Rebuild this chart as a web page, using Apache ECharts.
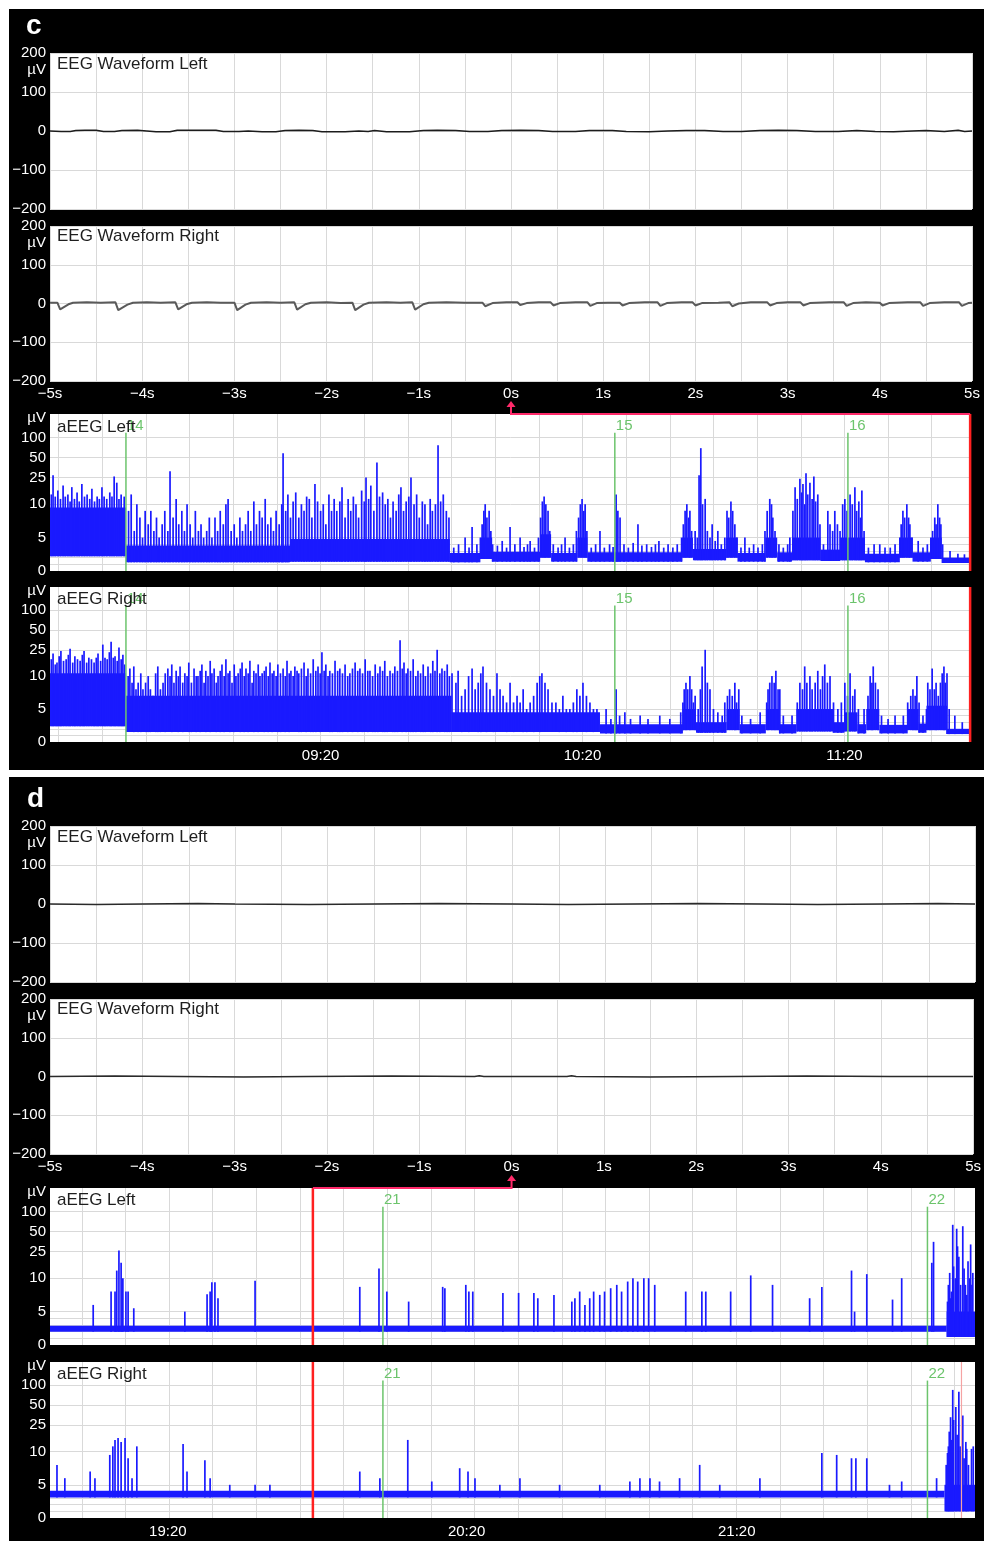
<!DOCTYPE html>
<html>
<head>
<meta charset="utf-8">
<script src="https://cdn.jsdelivr.net/npm/echarts@6/dist/echarts.min.js"></script>
<style>
  html, body { margin: 0; padding: 0; background: #fff; }
  #chart { width: 984px; height: 1541px; }
</style>
</head>
<body>
<div id="chart"></div>
<script>
// ---------- axis ticks / labels ----------
const eegTicks = [-5, -4, -3, -2, -1, 0, 1, 2, 3, 4, 5];
const eegLevels = [-200, -100, 0, 100, 200];
const aeegLevels = [0, 5, 10, 25, 50, 100];
const aeegGridLevels = [1, 2, 3, 4, 5, 10, 25, 50, 100];

// panel c time axis (minutes from left edge of the aEEG strip)
const cSpan = 211;
const cTimeTicks = [62, 122, 182];
const cTimeLabels = ['09:20', '10:20', '11:20'];
const cMarkers = [[17.4, '14'], [129.4, '15'], [182.8, '16']];
const cWindow = 210.8;

// panel d time axis
const dSpan = 212;
const dTimeTicks = [27.0, 95.5, 157.4];
const dTimeLabels = ['19:20', '20:20', '21:20'];
const dMarkers = [[76.3, '21'], [201.1, '22']];
const dWindow = 60.25;
const dFaint = 208.9;

// ---------- EEG waveforms [s, µV] ----------
const cEegLeft = [[-5,0],[-4.88,-1],[-4.78,-1],[-4.72,1],[-4.62,2],[-4.5,2],[-4.42,-1],[-4.3,-1],[-4.22,1],[-4.05,2],
  [-3.95,0],[-3.85,-2],[-3.7,-2],[-3.62,2],[-3.4,2],[-3.2,2],[-3.12,-1],[-2.95,-1],[-2.85,0],[-2.7,-2],[-2.55,-2],
  [-2.45,1],[-2.3,2],[-2.15,1],[-2.05,-2],[-1.8,-2],[-1.65,0],[-1.55,-1],[-1.48,1],[-1.35,-2],[-1.1,-2],[-0.95,1],
  [-0.8,2],[-0.6,1],[-0.45,-1],[-0.25,-1],[-0.1,1],[0.1,2],[0.3,1],[0.45,-1],[0.7,-1],[0.85,1],[1.1,1],[1.25,-1],
  [1.5,-2],[1.7,0],[1.9,1],[2.1,1],[2.3,-1],[2.5,-1],[2.7,1],[2.9,2],[3.1,1],[3.3,-1],[3.55,-1],[3.75,1],[3.95,-1],
  [4.15,-2],[4.35,0],[4.5,1],[4.7,-1],[4.85,2],[4.92,-1],[5,0]];
const cEegRight = [[-5,2],[-4.92,2],[-4.89,-15],[-4.8,-2],[-4.75,2],[-4.6,3],[-4.45,2],[-4.29,3],[-4.26,-17],[-4.16,-3],
  [-4.1,2],[-3.95,3],[-3.8,2],[-3.64,3],[-3.61,-15],[-3.52,-2],[-3.46,2],[-3.3,3],[-3.15,2],[-3.0,2],[-2.97,-17],
  [-2.88,-3],[-2.82,2],[-2.65,3],[-2.5,2],[-2.35,3],[-2.32,-16],[-2.23,-2],[-2.17,2],[-2.0,3],[-1.85,1],[-1.72,2],
  [-1.69,-17],[-1.6,-3],[-1.54,2],[-1.35,3],[-1.2,2],[-1.07,3],[-1.04,-16],[-0.95,-2],[-0.89,2],[-0.7,3],[-0.5,2],
  [-0.31,2],[-0.28,-7],[-0.2,1],[-0.05,3],[0.07,3],[0.10,-4],[0.17,1],[0.3,3],[0.43,3],[0.46,-5],[0.53,1],[0.7,3],
  [0.83,3],[0.86,-6],[0.93,1],[1.05,2],[1.18,2],[1.21,-5],[1.28,1],[1.45,3],[1.59,3],[1.62,-6],[1.69,1],[1.85,3],
  [1.97,3],[2.0,-5],[2.07,1],[2.25,2],[2.37,3],[2.40,-7],[2.47,0],[2.6,3],[2.78,3],[2.81,-5],[2.88,1],[3.0,3],
  [3.14,3],[3.17,-5],[3.24,1],[3.45,3],[3.61,3],[3.64,-6],[3.71,1],[3.85,3],[4.0,2],[4.03,-5],[4.1,1],[4.3,3],
  [4.44,3],[4.47,-6],[4.54,1],[4.7,3],[4.86,3],[4.89,-6],[4.96,1],[5,2]];
const dEegLeft = [[-5,0],[-4.5,-1],[-4,0],[-3.4,1],[-3,0],[-2.2,-1],[-1.5,0],[-0.8,1],[0,0],[0.6,-1],[1.3,0],
  [2,1],[2.7,0],[3.3,-1],[4,0],[4.6,1],[5,0]];
const dEegRight = [[-5,0],[-4.3,1],[-3.6,0],[-2.9,-1],[-2.2,0],[-1.3,1],[-0.4,0],[-0.35,2],[-0.3,0],[0.6,0],
  [0.65,2],[0.7,0],[1.5,-1],[2.4,0],[3.2,1],[4.1,0],[5,0]];

// ---------- aEEG bands [t0, t1, low µV, high µV] ----------
const cLeftBand = [[0,17.4,2.2,9.5],[17.4,55,1.3,3.8],[55,91.6,1.4,4.8],[91.6,98.6,1.3,2.7],[98.6,101.3,1.8,5],
  [101.3,112.3,1.4,2.9],[112.3,114.8,2,5.5],[114.8,120.8,1.4,2.7],[120.8,123.1,2,5],[123.1,144.8,1.4,2.8],
  [144.8,147.3,2,5],[147.3,154.9,1.6,3.3],[154.9,157.5,2,5],[157.5,163.9,1.4,2.7],[163.9,166.6,2,5],
  [166.6,170,1.4,2.8],[170,176.5,1.6,5],[176.5,181,1.5,3.2],[181,186.7,1.6,5],[186.7,194.7,1.3,2.6],
  [194.7,197.6,2,5],[197.6,201.8,1.4,2.8],[201.8,204.3,1.8,5],[204.3,211,1.2,2]];
const cRightBand = [[0,17.4,2.4,11],[17.4,92,1.5,7],[92,126,1.5,4.5],[126,145,1.3,2.7],[145,148,1.8,5],
  [148,155,1.4,3],[155,158,1.8,5],[158,164,1.3,2.7],[164,167,1.8,5],[167,171,1.3,2.7],[171,179.5,1.6,5],
  [179.5,182,1.4,3],[182,185,1.6,4.5],[185,187,1.3,2.7],[187,190,1.8,5],[190,196.5,1.3,2.6],[196.5,199,1.8,5],
  [199,200.8,1.4,2.8],[200.8,205.5,1.8,5.5],[205.5,211,1.2,2]];
const dLeftBand = [[0,205.5,2.0,2.9],[205.5,212,1.2,5]];
const dRightBand = [[0,205,3.1,4.1],[205,212,1.0,5]];

// ---------- aEEG spikes [t, peak µV] ----------
const cLeftSpikes = [
  [0.3,14],[0.7,27],[1.2,13],[1.8,16],[2.4,12],[3.0,19],[3.5,13],[4.1,14],[4.6,11],[5.0,18],[5.6,12],[6.2,15],
  [6.7,11],[7.3,20],[7.9,13],[8.5,14],[9.1,12],[9.6,17],[10.2,11],[10.8,13],[11.3,12],[11.9,18],[12.4,13],[13.0,12],
  [13.7,15],[14.2,13],[14.7,26],[15.3,21],[15.8,12],[16.3,14],[17.0,13],
  [18.0,9],[18.6,14],[19.3,6],[19.9,10],[20.6,8],[21.2,5],[21.8,9],[22.5,7],[23.1,9],[23.8,6],[24.4,8],[25.0,5],
  [25.7,7],[26.3,9],[27.0,6],[27.5,31],[28.2,8],[28.9,12],[29.5,7],[30.2,9],[30.8,6],[31.4,10],[32.1,7],[32.7,5],
  [33.3,9],[34.0,6],[34.6,7],[35.2,5],[35.9,6],[36.5,8],[37.1,5],[37.8,8],[38.4,6],[39.0,9],[39.7,7],[40.3,10],
  [40.8,12],[41.5,6],[42.2,7],[42.8,5],[43.5,8],[44.1,6],[44.8,7],[45.4,9],[46.0,6],[46.7,11],[47.3,7],[48.0,9],
  [48.6,8],[49.3,12],[49.9,7],[50.6,8],[51.2,6],[51.8,9],[52.5,7],[53.1,10],[53.4,58],[54.0,9],[54.5,14],[55.1,8],
  [55.7,11],[56.3,15],[57.0,8],[57.6,10],[58.2,9],[58.8,13],[59.4,12],[60.0,8],[60.7,20],[61.3,11],[62.0,9],
  [62.6,10],[63.2,7],[63.9,14],[64.5,9],[65.1,12],[65.7,9],[66.4,11],[66.9,18],[67.6,8],[68.3,12],[68.9,9],
  [69.5,13],[70.1,10],[70.7,8],[71.4,16],[72.0,11],[72.4,25],[73.0,12],[73.5,19],[74.2,9],[74.9,42],[75.5,13],
  [76.2,15],[76.8,10],[77.4,12],[78.0,8],[78.6,11],[79.3,9],[79.9,14],[80.4,18],[81.0,9],[81.6,11],[82.2,13],
  [82.7,25],[83.4,10],[84.0,14],[84.6,8],[85.3,11],[85.9,10],[86.5,7],[87.1,12],[87.6,9],[88.3,10],[88.9,76],
  [89.5,11],[90.1,14],[90.8,9],[91.4,8],
  [92.5,3.5],[93.6,4],[95.1,5],[96.0,3.5],[96.7,6.6],[97.8,4],[98.6,5],[99.0,7],[99.4,9],[99.7,10],[100.1,8],
  [100.6,9],[101.0,6],[101.4,4],[102.5,3.8],[103.6,4.5],[104.6,3.5],[105.4,6.6],[106.5,4],[107.7,5],[108.6,3.6],
  [109.4,4],[110.0,4.5],[111.0,3.5],[111.9,5],[112.4,8],[112.8,11],[113.2,13],[113.6,10],[114.1,9],[114.5,6],
  [115.3,4],[116.4,3.5],[117.2,4],[118.0,5],[119.0,3.5],[119.9,4],[120.6,6],[121.1,8],[121.5,10],[121.9,12],
  [122.3,9],[122.6,10],[123.0,6],[124.0,3.5],[125.0,4],[126.0,6],[127.0,3.5],[128.2,4],[129.0,3.6],[129.7,14],
  [130.1,9],[130.6,8],
  [131.5,4],[132.5,3.5],[133.6,4.2],[134.7,7],[135.6,3.8],[136.7,4],[137.8,3.6],[138.7,4],[139.5,4.5],[140.6,3.5],
  [141.6,4],[142.7,3.5],[143.7,4],[144.7,5],[145.1,7],[145.5,9],[145.9,10],[146.3,8],[146.6,9],[147.0,6],[147.8,6],
  [148.3,5],[148.7,27],[149.1,69],[149.5,10],[150.1,12],[150.6,6],[151.2,5],[151.7,7],[152.4,4.5],[153.0,6],
  [153.8,4],[154.6,5],[155.1,9],[155.5,8],[156.0,11],[156.4,9],[156.9,7],[157.4,5],[158.3,3.5],[159.2,5],
  [160.2,3.5],[161.2,4],[162.2,3.5],[163.2,4],[163.8,6],[164.3,9],[164.9,12],[165.3,10],[165.6,8],[166.1,6],
  [167.0,4],[168.0,3.5],[169.0,4],[169.5,5],[170.2,9],[170.7,18],[171.2,12],[171.8,24],[172.2,15],[172.5,20],
  [172.9,10],[173.2,29],[173.6,14],[174.1,21],[174.6,12],[175.0,26],[175.4,11],[175.9,14],[176.4,7],[177.2,4],
  [178.2,9],[178.7,7],[179.3,6],[179.8,9],[180.4,7],[181.0,6],[181.6,10],[182.1,12],[182.6,9],[183.3,14],
  [183.8,10],[184.4,18],[184.8,9],[185.3,11],[185.7,8],[186.0,16],[186.5,6],[187.5,3.5],[188.8,4],[190.1,4],
  [191.3,3.5],[192.5,3.5],[193.6,4],[194.7,5],[195.0,7],[195.4,9],[195.8,8],[196.3,10],[196.7,8],[197.0,7],
  [197.5,5],[198.9,4.5],[200.0,3.5],[201.0,4],[201.8,5],[202.2,6],[202.7,8],[203.0,7],[203.4,10],[203.8,8],
  [204.1,7],[204.5,4],[206.2,3],[208.0,2.6],[209.5,2.5]];
const cRightSpikes = [
  [0.3,18],[0.7,22],[1.2,15],[1.6,16],[2.1,20],[2.5,24],[3.1,17],[3.7,18],[4.2,21],[4.6,26],[5.2,16],[5.7,20],
  [6.3,18],[6.9,17],[7.4,21],[7.8,24],[8.4,16],[8.9,19],[9.5,18],[10.1,16],[10.6,19],[11.0,22],[11.6,17],[12.1,30],
  [12.6,19],[13.1,18],[13.6,23],[14.0,33],[14.5,19],[14.9,20],[15.4,17],[15.8,27],[16.3,18],[16.7,21],[17.1,15],
  [17.9,10],[18.3,13],[18.8,9],[19.2,14],[19.7,8],[20.2,9],[20.8,11],[21.3,8],[21.9,9],[22.5,10],[23.0,8],[23.6,7],
  [24.2,11],[24.7,14],[25.3,8],[25.9,9],[26.4,11],[27.0,13],[27.5,10],[27.9,15],[28.4,9],[28.9,12],[29.4,10],
  [29.8,14],[30.4,9],[30.9,11],[31.4,10],[31.8,16],[32.4,9],[33.0,13],[33.5,10],[33.9,10],[34.4,12],[34.8,15],
  [35.3,9],[35.7,12],[36.2,10],[36.7,17],[37.1,11],[37.6,13],[38.1,9],[38.5,10],[39.0,12],[39.4,15],[39.9,10],
  [40.3,18],[40.8,11],[41.2,12],[41.7,9],[42.2,15],[42.6,10],[43.1,11],[43.6,13],[44.0,16],[44.5,10],[44.9,13],
  [45.4,11],[45.8,17],[46.3,9],[46.7,12],[47.2,11],[47.7,15],[48.1,10],[48.6,11],[49.1,12],[49.5,14],[50.0,10],
  [50.4,16],[50.9,11],[51.3,12],[51.8,10],[52.2,15],[52.8,11],[53.4,13],[53.9,10],[54.3,17],[54.8,11],[55.2,12],
  [55.7,10],[56.1,14],[56.6,12],[57.0,11],[57.6,13],[58.2,16],[58.7,10],[59.1,13],[59.7,11],[60.3,18],[60.9,12],
  [61.4,14],[61.9,11],[62.3,23],[62.8,12],[63.2,15],[63.7,10],[64.1,12],[64.7,11],[65.3,17],[65.9,12],[66.4,13],
  [67.0,11],[67.6,15],[68.2,10],[68.7,11],[69.3,13],[69.9,16],[70.5,12],[71.0,13],[71.6,11],[72.2,18],[72.8,12],
  [73.3,12],[73.9,10],[74.5,15],[75.1,11],[75.6,14],[76.2,12],[76.7,17],[77.3,10],[77.9,12],[78.5,11],[79.0,14],
  [79.6,12],[80.2,35],[80.7,13],[81.1,16],[81.6,11],[82.0,13],[82.6,12],[83.2,18],[83.8,10],[84.3,12],[84.9,11],
  [85.5,15],[86.0,10],[86.6,14],[87.2,11],[87.7,17],[88.2,12],[88.7,25],[89.3,11],[89.8,13],[90.4,12],[91.0,15],
  [91.5,10],[92.1,11],
  [93.0,9],[93.5,12],[94.3,7],[95.1,8],[95.9,10],[96.7,13],[97.4,8],[98.1,9],[98.7,11],[99.2,14],[100.0,9],
  [100.8,8],[101.6,7],[102.4,11],[103.1,8],[103.8,7],[104.6,6],[105.4,9],[106.2,6],[107.0,7],[107.7,6],[108.4,8],
  [109.2,5],[110.0,6],[110.8,7],[111.6,9],[112.2,10],[112.7,11],[113.4,9],[114.1,8],[115.0,6],[115.9,6],[116.7,5],
  [117.5,7],[118.3,5],[119.1,5],[119.9,6],[120.7,8],[121.4,7],[122.1,9],[122.9,7],[123.7,6],[124.5,5],[125.3,5],
  [127.4,5],[128.5,3.5],[129.7,8],[130.5,4],[131.7,4.5],[133.0,3.5],[135.2,4],[137.0,3.5],[139.7,4],[142.0,3.5],
  [144.5,4.5],[145.0,6],[145.3,8],[145.7,9],[146.1,8],[146.6,10],[147.0,8],[147.4,6],[147.8,7],[148.5,5],[149.0,8],
  [149.4,14],[150.1,25],[150.6,9],[151.2,8],[152.0,5],[153.0,4.5],[154.0,4],[154.6,6],[155.2,7],[155.7,8],
  [156.3,7],[156.9,9],[157.3,6],[157.8,8],[158.5,4],[160.5,3.5],[162.7,4.5],[164.2,6],[164.5,8],[164.9,9],
  [165.4,10],[165.9,9],[166.3,12],[166.8,8],[167.2,8],[168.0,4],[170.0,4],[171.2,6],[171.8,9],[172.4,8],[172.9,14],
  [173.4,9],[174.1,10],[174.6,8],[175.3,9],[175.9,12],[176.5,8],[177.0,10],[177.5,15],[178.1,9],[178.7,10],
  [179.5,6],[180.5,5],[181.3,6],[182.1,9],[182.7,7],[183.3,11],[183.9,7],[184.4,8],[185.2,5],[186.5,5],[187.4,7],
  [187.9,10],[188.3,9],[188.6,14],[189.1,9],[189.7,8],[190.5,4],[192.0,3.5],[193.6,4],[195.5,4],[196.5,6],
  [197.2,7],[197.7,8],[198.2,7],[198.6,10],[199.1,6],[200.0,4],[200.8,5],[201.1,9],[201.6,8],[202.1,13],[202.6,8],
  [203.0,9],[203.5,7],[204.0,9],[204.4,11],[204.8,14],[205.1,9],[205.5,11],[206.0,5],[207.3,4],[209.0,3]];
const dLeftSpikes = [[9.9,6],[14.0,8],[14.9,8],[15.3,13],[15.8,26],[16.3,17],[16.7,10],[17.4,8],[17.9,8],[19.2,5.5],
  [30.9,5],[36.0,7.6],[36.7,8],[37.1,9.4],[37.8,9.4],[38.5,7],[47.0,9.6],[71.0,8.7],[75.4,14],[77.2,8],[82.2,6.5],
  [90.0,8.7],[90.5,8.5],[95.3,9],[96.0,8],[96.9,8],[103.8,7.8],[107.4,7.8],[110.9,7.8],[111.8,7],[115.5,7.5],
  [119.6,6.5],[120.3,7],[121.4,8],[122.6,6],[123.7,7],[124.6,8],[126.0,7.5],[127.1,8],[128.5,8.5],[129.9,9],
  [131.0,8],[132.4,9.5],[133.6,10],[134.7,9.5],[136.1,10],[137.2,10],[138.6,9],[145.7,8],[149.4,8],[150.3,8],
  [156.0,8],[160.6,11],[165.6,9],[174.1,7],[176.9,8.7],[183.7,13],[184.4,5],[187.2,11.5],[193.1,6.8],[195.2,10],
  [202.1,17],[202.5,35],[205.7,6.5],[205.9,9],[206.2,12],[206.4,7],[206.6,8],[206.9,63],[207.1,15],[207.5,10],
  [207.8,55],[208.0,30],[208.3,21],[208.7,9],[209.2,60],[209.5,14],[209.8,9],[210.1,7.5],[210.4,18],[210.8,10],
  [211.0,32],[211.3,9],[211.5,12]];
const dRightSpikes = [[1.6,8],[3.4,6],[9.2,7],[10.3,6],[13.7,9.5],[14.4,12],[14.9,15],[15.6,16],[16.3,14],[17.2,16],
  [17.9,9],[18.8,6],[19.9,12],[30.5,13],[31.4,7],[35.5,8.7],[36.7,6],[41.2,5],[47.0,5],[50.4,5],[71.0,7],[75.6,6],
  [82.0,15],[87.5,5.5],[93.9,7.5],[95.8,7],[97.4,6],[103.1,5],[107.7,6],[116.8,5],[126.0,5],[132.9,5.5],[135.2,6],
  [137.5,6],[139.7,5.5],[144.3,6],[148.9,8],[153.5,5],[162.7,6],[176.9,9.8],[180.3,9.5],[183.7,9],[184.7,9],
  [187.2,9],[192.4,5],[195.2,5.5],[203.2,6],[205.4,8],[205.7,9.8],[205.9,12],[206.1,20],[206.4,33],[206.6,15],
  [206.9,85],[207.1,30],[207.6,47],[207.9,18],[208.3,80],[208.6,12],[209.2,35],[209.5,9],[209.9,14],[210.1,11],
  [210.5,8],[211.2,11],[211.6,12]];

// ---------- look ----------
const FONT = "'Liberation Sans', Arial, sans-serif";
const BLUE = '#1a1aff';
const GREEN = '#6cc46c';
const RED = '#ff2020';
const PINK = '#ff2a6a';
const GRIDC = '#d9d9d9';
const EEG_UNIT_AT = 156;
const AEEG_MAX = 2.35;
const AEEG_UNIT_AT = 2.29;

// semi-log aEEG scale: linear 0-10 µV, log 10-100 µV
function f(v) { return v <= 10 ? v / 10 : 1 + Math.log10(v / 10); }
function neg(v) { return v < 0 ? '\u2212' + (-v) : String(v); }
function near(list, v) {
  for (let i = 0; i < list.length; i++) if (Math.abs(list[i] - v) < 1e-6) return i;
  return -1;
}

// [left, top, width, height]
const layout = [
  [50, 53, 922, 156], [50, 226, 922, 155], [50, 414, 921, 157], [50, 587, 921, 155],
  [50, 826, 925, 156], [50, 999, 925, 155], [50, 1188, 925, 157], [50, 1362, 925, 156]
];

const grid = layout.map(g => ({
  left: g[0], top: g[1], width: g[2], height: g[3],
  show: true, backgroundColor: '#fff', borderWidth: 0
}));

const labelBase = { color: '#fff', fontSize: 15, fontFamily: FONT };

function eegX(i, show) {
  return {
    type: 'value', gridIndex: i, min: -5, max: 5, interval: 0.5,
    axisLine: { show: false }, axisTick: { show: false },
    splitLine: { show: true, lineStyle: { color: GRIDC, width: 1 } },
    axisLabel: Object.assign({ show: show, customValues: eegTicks, margin: 5,
      formatter: v => neg(v) + 's' }, labelBase)
  };
}
function eegY(i) {
  return {
    type: 'value', gridIndex: i, min: -200, max: 200, interval: 100,
    axisLine: { show: false }, axisTick: { show: false },
    splitLine: { show: true, lineStyle: { color: GRIDC, width: 1 } },
    axisLabel: Object.assign({ customValues: eegLevels.concat([EEG_UNIT_AT]), margin: 4,
      formatter: v => Math.abs(v - EEG_UNIT_AT) < 1e-6 ? 'µV' : neg(v) }, labelBase)
  };
}
function aeegX(i, span, firstLine, ticks, labels, show) {
  const lines = [];
  for (let v = firstLine; v < span; v += 10) lines.push(v);
  return {
    type: 'value', gridIndex: i, min: 0, max: span,
    axisLine: { show: false }, axisTick: { show: false, customValues: lines },
    splitLine: { show: true, lineStyle: { color: GRIDC, width: 1 } },
    axisLabel: Object.assign({ show: show, customValues: ticks, margin: 6,
      formatter: v => { const k = near(ticks, v); return k < 0 ? '' : labels[k]; } }, labelBase)
  };
}
function aeegY(i) {
  const tv = aeegLevels.map(f);
  return {
    type: 'value', gridIndex: i, min: 0, max: AEEG_MAX,
    axisLine: { show: false },
    axisTick: { show: false, customValues: aeegGridLevels.map(f) },
    splitLine: { show: true, lineStyle: { color: GRIDC, width: 1 } },
    axisLabel: Object.assign({ customValues: tv.concat([AEEG_UNIT_AT]), margin: 4,
      formatter: v => {
        if (Math.abs(v - AEEG_UNIT_AT) < 1e-6) return 'µV';
        const k = near(tv, v); return k < 0 ? '' : String(aeegLevels[k]);
      } }, labelBase)
  };
}

const xAxis = [
  eegX(0, false), eegX(1, true),
  aeegX(2, cSpan, 2, cTimeTicks, cTimeLabels, false), aeegX(3, cSpan, 2, cTimeTicks, cTimeLabels, true),
  eegX(4, false), eegX(5, true),
  aeegX(6, dSpan, 7.3, dTimeTicks, dTimeLabels, false), aeegX(7, dSpan, 7.3, dTimeTicks, dTimeLabels, true)
];
const yAxis = [eegY(0), eegY(1), aeegY(2), aeegY(3), eegY(4), eegY(5), aeegY(6), aeegY(7)];

function eegLine(gi, data, color, width) {
  return { type: 'line', xAxisIndex: gi, yAxisIndex: gi, data: data, symbol: 'none',
    lineStyle: { color: color, width: width }, silent: true };
}
function lowAt(band, t) {
  for (const s of band) if (t >= s[0] && t < s[1]) return s[2];
  return band[band.length - 1][2];
}
function bandSeries(gi, band) {
  return {
    type: 'custom', xAxisIndex: gi, yAxisIndex: gi, silent: true, z: 2,
    data: band.map(s => [s[0], s[1], f(s[2]), f(s[3])]),
    encode: { x: [0, 1], y: [2, 3] },
    renderItem: (params, api) => {
      const a = api.coord([api.value(0), api.value(3)]);
      const b = api.coord([api.value(1), api.value(2)]);
      return { type: 'rect', shape: { x: a[0], y: a[1], width: b[0] - a[0], height: b[1] - a[1] },
        style: { fill: BLUE } };
    }
  };
}
function spikeSeries(gi, spikes, band) {
  return {
    type: 'custom', xAxisIndex: gi, yAxisIndex: gi, silent: true, z: 3,
    data: spikes.map(s => [s[0], f(lowAt(band, s[0])), f(s[1])]),
    encode: { x: 0, y: [1, 2] },
    renderItem: (params, api) => {
      const a = api.coord([api.value(0), api.value(1)]);
      const b = api.coord([api.value(0), api.value(2)]);
      return { type: 'line', shape: { x1: a[0], y1: a[1], x2: b[0], y2: b[1] },
        style: { stroke: BLUE, lineWidth: 1.7 } };
    }
  };
}
function markerSeries(gi, marks, color, topV, lw, withText) {
  return {
    type: 'custom', xAxisIndex: gi, yAxisIndex: gi, silent: true, z: 4,
    data: marks.map(m => [m[0], topV]),
    encode: { x: 0, y: 1 },
    renderItem: (params, api) => {
      const t = api.value(0);
      const top = api.coord([t, api.value(1)]);
      const bot = api.coord([t, 0]);
      const kids = [{ type: 'line', shape: { x1: top[0], y1: top[1], x2: bot[0], y2: bot[1] },
        style: { stroke: color, lineWidth: lw } }];
      if (withText) kids.push({ type: 'text', style: { text: marks[params.dataIndex][1],
        x: top[0] + 1, y: top[1] + 1, align: 'left', verticalAlign: 'bottom',
        fill: color, font: '15px ' + FONT } });
      return { type: 'group', children: kids };
    }
  };
}

const series = [
  eegLine(0, cEegLeft, '#1c1c1c', 1.5), eegLine(1, cEegRight, '#5a5a5a', 2),
  eegLine(4, dEegLeft, '#2a2a2a', 1.5), eegLine(5, dEegRight, '#2a2a2a', 1.5),
  bandSeries(2, cLeftBand), spikeSeries(2, cLeftSpikes, cLeftBand),
  bandSeries(3, cRightBand), spikeSeries(3, cRightSpikes, cRightBand),
  bandSeries(6, dLeftBand), spikeSeries(6, dLeftSpikes, dLeftBand),
  bandSeries(7, dRightBand), spikeSeries(7, dRightSpikes, dRightBand),
  markerSeries(2, cMarkers, GREEN, 2.07, 1.5, true), markerSeries(3, cMarkers, GREEN, 2.07, 1.5, true),
  markerSeries(6, dMarkers, GREEN, 2.07, 1.5, true), markerSeries(7, dMarkers, GREEN, 2.07, 1.5, true),
  markerSeries(2, [[cWindow, '']], RED, AEEG_MAX, 2.5, false),
  markerSeries(3, [[cWindow, '']], RED, AEEG_MAX, 2.5, false),
  markerSeries(6, [[dWindow, '']], RED, AEEG_MAX, 2.5, false),
  markerSeries(7, [[dWindow, '']], RED, AEEG_MAX, 2.5, false),
  markerSeries(7, [[dFaint, '']], '#f5a3a3', AEEG_MAX, 1.2, false)
];

function panelTitle(text, top) {
  return { text: text, left: 57, top: top, padding: 0,
    textStyle: { color: '#1e1e1e', fontSize: 17, fontWeight: 'normal', fontFamily: FONT } };
}
const title = [
  { text: 'c', left: 26, top: 12, padding: 0, textStyle: { color: '#fff', fontSize: 28, fontWeight: 'bold', fontFamily: FONT } },
  { text: 'd', left: 27, top: 785, padding: 0, textStyle: { color: '#fff', fontSize: 28, fontWeight: 'bold', fontFamily: FONT } },
  panelTitle('EEG Waveform Left', 56), panelTitle('EEG Waveform Right', 228),
  panelTitle('aEEG Left', 419), panelTitle('aEEG Right', 591),
  panelTitle('EEG Waveform Left', 829), panelTitle('EEG Waveform Right', 1001),
  panelTitle('aEEG Left', 1192), panelTitle('aEEG Right', 1366)
];

const chart = echarts.init(document.getElementById('chart'));
chart.setOption({
  animation: false,
  backgroundColor: '#fff',
  title: title,
  grid: grid,
  xAxis: xAxis,
  yAxis: yAxis,
  series: series,
  graphic: [
    { id: 'bgc', type: 'rect', z: -100, silent: true, shape: { x: 9, y: 9, width: 975, height: 761 }, style: { fill: '#000' } },
    { id: 'bgd', type: 'rect', z: -100, silent: true, shape: { x: 9, y: 777, width: 975, height: 764 }, style: { fill: '#000' } }
  ]
});

// connector from the aEEG window marker to the 0 s point of the EEG axis
function windowLink(id, eegAxis, aeegAxis, tWin) {
  const x0 = chart.convertToPixel({ xAxisIndex: eegAxis }, 0);
  const yTop = chart.convertToPixel({ yAxisIndex: aeegAxis }, AEEG_MAX);
  const xr = chart.convertToPixel({ xAxisIndex: aeegAxis }, tWin);
  return [
    { id: id + 'l', type: 'polyline', z: 100, silent: true,
      shape: { points: [[x0, yTop - 9], [x0, yTop], [xr, yTop]] },
      style: { stroke: PINK, lineWidth: 2, fill: null } },
    { id: id + 'a', type: 'polygon', z: 100, silent: true,
      shape: { points: [[x0 - 4.5, yTop - 7], [x0 + 4.5, yTop - 7], [x0, yTop - 13]] },
      style: { fill: PINK } }
  ];
}
chart.setOption({ graphic: windowLink('wc', 1, 2, cWindow).concat(windowLink('wd', 5, 6, dWindow)) });
</script>
</body>
</html>
